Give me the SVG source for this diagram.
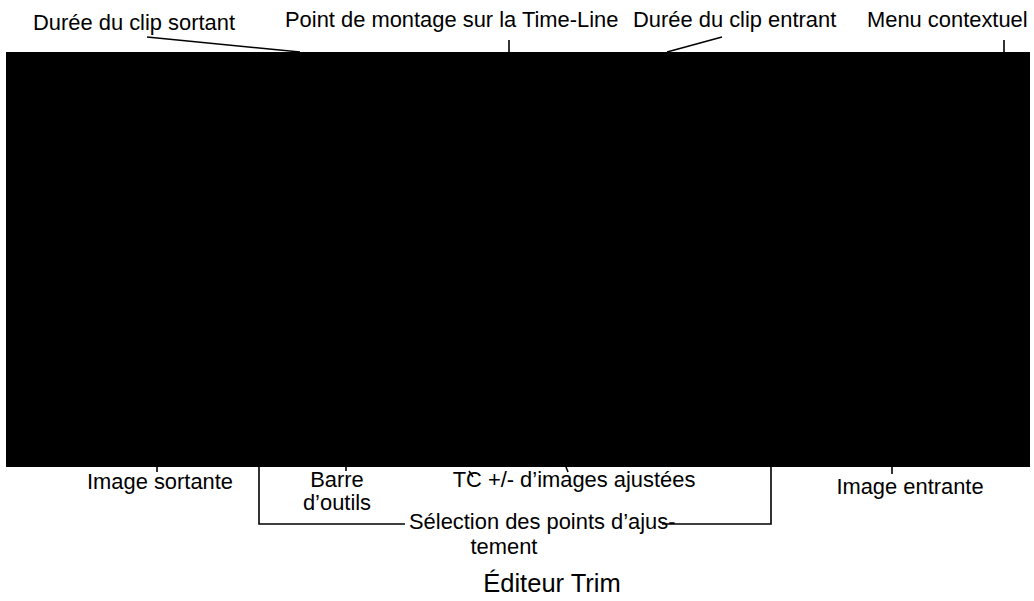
<svg xmlns="http://www.w3.org/2000/svg" width="1034" height="601" viewBox="0 0 1034 601">
<style>
.t{font-family:"Liberation Sans",Arial,sans-serif;font-size:21.9px;fill:#000}
.m{text-anchor:middle}
.title{font-family:"Liberation Sans",Arial,sans-serif;font-size:25.5px;fill:#000;text-anchor:middle}
.c{stroke:#000;stroke-width:1.6;fill:none}
</style>
<rect width="1034" height="601" fill="#fff"/>
<g id="screen"><rect x="6" y="52" width="1024" height="415" fill="#000"/></g>
<g id="connectors">
<line class="c" x1="147" y1="37" x2="300" y2="52"/>
<line class="c" x1="509" y1="40" x2="509" y2="52"/>
<line class="c" x1="722" y1="37" x2="667" y2="52"/>
<line class="c" x1="1004" y1="40" x2="1004" y2="52"/>
<line class="c" x1="157" y1="466" x2="157" y2="472"/>
<line class="c" x1="346" y1="466" x2="346" y2="471"/>
<line class="c" x1="892" y1="466" x2="892" y2="474"/>
<polyline class="c" points="259,466 259,524 405,524"/>
<polyline class="c" points="771,466 771,524 662,524"/>
<line class="c" x1="469" y1="471" x2="473" y2="477" stroke-width="1.2"/>
<line class="c" x1="566" y1="467" x2="568" y2="472" stroke-width="1.2"/>
</g>
<g id="label-sortant"><text class="t" x="33" y="30">Durée du clip sortant</text></g>
<g id="label-montage"><text class="t" x="285" y="27">Point de montage sur la Time-Line</text></g>
<g id="label-entrant"><text class="t" x="633" y="27">Durée du clip entrant</text></g>
<g id="label-menu"><text class="t" x="867" y="27">Menu contextuel</text></g>
<g id="label-image-sortante"><text class="t m" x="160" y="489">Image sortante</text></g>
<g id="label-barre"><text class="t m" x="337" y="487">Barre</text><text class="t m" x="337" y="510">d’outils</text></g>
<g id="label-tc"><text class="t m" x="574" y="487">TC +/- d’images ajustées</text></g>
<g id="label-image-entrante"><text class="t m" x="910" y="494">Image entrante</text></g>
<g id="label-selection"><text class="t" x="409" y="529">Sélection des points d’ajus-</text><text class="t m" x="504" y="554">tement</text></g>
<g id="title"><text class="title" x="552" y="592">Éditeur Trim</text></g>
</svg>
